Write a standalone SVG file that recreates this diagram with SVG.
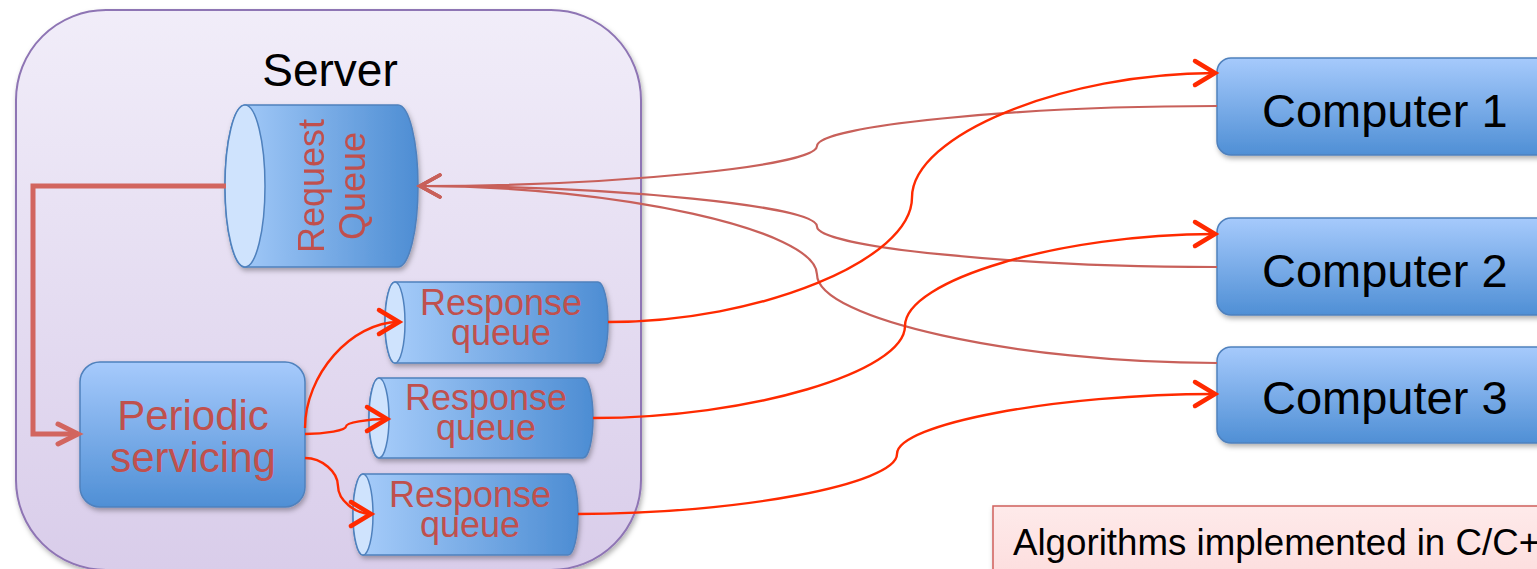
<svg xmlns="http://www.w3.org/2000/svg" width="1537" height="569" viewBox="0 0 1537 569">
<style>
  .lbl { font-family: "Liberation Sans", Arial, sans-serif; }
  .red { fill: #c0504d; }
  .blk { fill: #000000; }
  .cyl { fill: url(#gCyl); stroke: #4f81bd; stroke-width: 1.5; }
  .face { fill: #cfe3fd; stroke: #4f81bd; stroke-width: 1.5; }
  .box { fill: url(#gBox); stroke: #4f81bd; stroke-width: 1.5; }
  .thin { fill: none; stroke: #c8605a; stroke-width: 2.2; }
  .hot { fill: none; stroke: #ff2a00; stroke-width: 2.4; }
</style>
<defs>
  <linearGradient id="gServer" x1="0" y1="0" x2="0" y2="1">
    <stop offset="0" stop-color="#f1edf9"/>
    <stop offset="1" stop-color="#d9cdea"/>
  </linearGradient>
  <linearGradient id="gCyl" x1="0" y1="0" x2="1" y2="0">
    <stop offset="0" stop-color="#a9cefb"/>
    <stop offset="1" stop-color="#4d8dd3"/>
  </linearGradient>
  <linearGradient id="gBox" x1="0" y1="0" x2="0" y2="1">
    <stop offset="0" stop-color="#a6cafc"/>
    <stop offset="1" stop-color="#4f8fd5"/>
  </linearGradient>
  <linearGradient id="gNote" x1="0" y1="0" x2="0" y2="1">
    <stop offset="0" stop-color="#feeaea"/>
    <stop offset="1" stop-color="#fcd9d9"/>
  </linearGradient>
  <filter id="sh" x="-10%" y="-10%" width="130%" height="140%">
    <feDropShadow dx="1.5" dy="3" stdDeviation="2.5" flood-color="#000" flood-opacity="0.3"/>
  </filter>
  <marker id="aHot" viewBox="-30 -20 36 40" refX="0" refY="0" markerWidth="36" markerHeight="40" markerUnits="userSpaceOnUse" orient="auto" overflow="visible">
    <path d="M-20,-12 L0,0 L-20,12" fill="none" stroke="#ff2a00" stroke-width="4.5" stroke-linecap="round" stroke-linejoin="miter"/>
  </marker>
  <marker id="aThin" viewBox="-30 -20 36 40" refX="0" refY="0" markerWidth="36" markerHeight="40" markerUnits="userSpaceOnUse" orient="auto" overflow="visible">
    <path d="M-20,-11 L0,0 L-20,11" fill="none" stroke="#c8605a" stroke-width="3.5" stroke-linecap="round"/>
  </marker>
  <marker id="aThick" viewBox="-30 -20 36 40" refX="0" refY="0" markerWidth="36" markerHeight="40" markerUnits="userSpaceOnUse" orient="auto" overflow="visible">
    <path d="M-20,-10 L0,0 L-20,10" fill="none" stroke="#d2655f" stroke-width="5" stroke-linecap="round"/>
  </marker>
</defs>

<rect width="1537" height="569" fill="#ffffff"/>

<g id="server">
  <rect x="16" y="10" width="625" height="560" rx="90" ry="90" fill="url(#gServer)" stroke="#8e74b4" stroke-width="2" filter="url(#sh)"/>
  <text class="lbl blk" x="330" y="86" font-size="46" text-anchor="middle">Server</text>
</g>

<g id="request-queue" filter="url(#sh)">
  <path class="cyl" d="M245,105 L398,105 A20,81 0 0 1 398,267 L245,267 A20,81 0 0 1 245,105 Z"/>
  <ellipse class="face" cx="245" cy="186" rx="20" ry="81"/>
  <text class="lbl red" font-size="36" text-anchor="middle" transform="translate(324,186) rotate(-90)">Request</text>
  <text class="lbl red" font-size="36" text-anchor="middle" transform="translate(365,186) rotate(-90)">Queue</text>
</g>

<g id="periodic-servicing">
  <rect class="box" x="80" y="362" width="225" height="145" rx="20" ry="20" filter="url(#sh)"/>
  <text class="lbl red" x="193" y="430" font-size="42" text-anchor="middle">Periodic</text>
  <text class="lbl red" x="193" y="472" font-size="42" text-anchor="middle">servicing</text>
</g>

<g id="response-queue-1">
  <path class="cyl" d="M395,282 L598,282 A10,40.5 0 0 1 598,363 L395,363 A10,40.5 0 0 1 395,282 Z" filter="url(#sh)"/>
  <ellipse class="face" cx="395" cy="322.5" rx="10" ry="40.5"/>
  <text class="lbl red" x="501" y="315" font-size="36" text-anchor="middle">Response</text>
  <text class="lbl red" x="501" y="345" font-size="36" text-anchor="middle">queue</text>
</g>

<g id="response-queue-2">
  <path class="cyl" d="M379,378 L583,378 A10,40 0 0 1 583,458 L379,458 A10,40 0 0 1 379,378 Z" filter="url(#sh)"/>
  <ellipse class="face" cx="379" cy="418" rx="10" ry="40"/>
  <text class="lbl red" x="486" y="410" font-size="36" text-anchor="middle">Response</text>
  <text class="lbl red" x="486" y="440" font-size="36" text-anchor="middle">queue</text>
</g>

<g id="response-queue-3">
  <path class="cyl" d="M363,474 L568,474 A10,40.5 0 0 1 568,555 L363,555 A10,40.5 0 0 1 363,474 Z" filter="url(#sh)"/>
  <ellipse class="face" cx="363" cy="514.5" rx="10" ry="40.5"/>
  <text class="lbl red" x="470" y="507" font-size="36" text-anchor="middle">Response</text>
  <text class="lbl red" x="470" y="537" font-size="36" text-anchor="middle">queue</text>
</g>

<g id="computer-1">
  <rect class="box" x="1217" y="58" width="400" height="97" rx="14" ry="14" filter="url(#sh)"/>
  <text class="lbl blk" x="1262" y="127" font-size="47">Computer 1</text>
</g>
<g id="computer-2">
  <rect class="box" x="1217" y="218" width="400" height="97" rx="14" ry="14" filter="url(#sh)"/>
  <text class="lbl blk" x="1262" y="287" font-size="47">Computer 2</text>
</g>
<g id="computer-3">
  <rect class="box" x="1217" y="347" width="400" height="96" rx="14" ry="14" filter="url(#sh)"/>
  <text class="lbl blk" x="1262" y="414" font-size="47">Computer 3</text>
</g>

<g id="note">
  <rect x="993" y="506" width="600" height="100" fill="url(#gNote)" stroke="#d0605c" stroke-width="1.5" filter="url(#sh)"/>
  <text class="lbl blk" x="1013" y="555" font-size="36.7">Algorithms implemented in C/C++</text>
</g>

<g id="connectors">
  <path d="M226,186 L33,186 L33,434 L78,434" fill="none" stroke="#d2655f" stroke-width="5" marker-end="url(#aThick)"/>
  <path class="thin" d="M1217,106 C1017,106 817,126 817,146 C817,166 617,186 420,186" marker-end="url(#aThin)"/>
  <path class="thin" d="M1217,267 C1017,267 817,247 817,226.5 C817,206 617,186 420,186" marker-end="url(#aThin)"/>
  <path class="thin" d="M1217,363 C1017,363 817,319 817,274.5 C817,230 617,186 420,186" marker-end="url(#aThin)"/>
  <path class="hot" d="M608,322 C760,322 912,260 912,197.5 C912,135 1064,73 1215,73" marker-end="url(#aHot)"/>
  <path class="hot" d="M593,418 C749,418 905,372 905,326 C905,280 1061,234 1215,234" marker-end="url(#aHot)"/>
  <path class="hot" d="M578,514 C738,514 897,484 897,454 C897,424 1057,394 1215,394" marker-end="url(#aHot)"/>
  <path class="hot" d="M305,428 C305,375 351,322 399,322" marker-end="url(#aHot)"/>
  <path class="hot" d="M305,434 C326,434 346,430 346,426.5 C346,423 367,419 387,419" marker-end="url(#aHot)"/>
  <path class="hot" d="M305,458 C322,458 338,472 338,486 C338,500 355,514 371,514" marker-end="url(#aHot)"/>
</g>
</svg>
